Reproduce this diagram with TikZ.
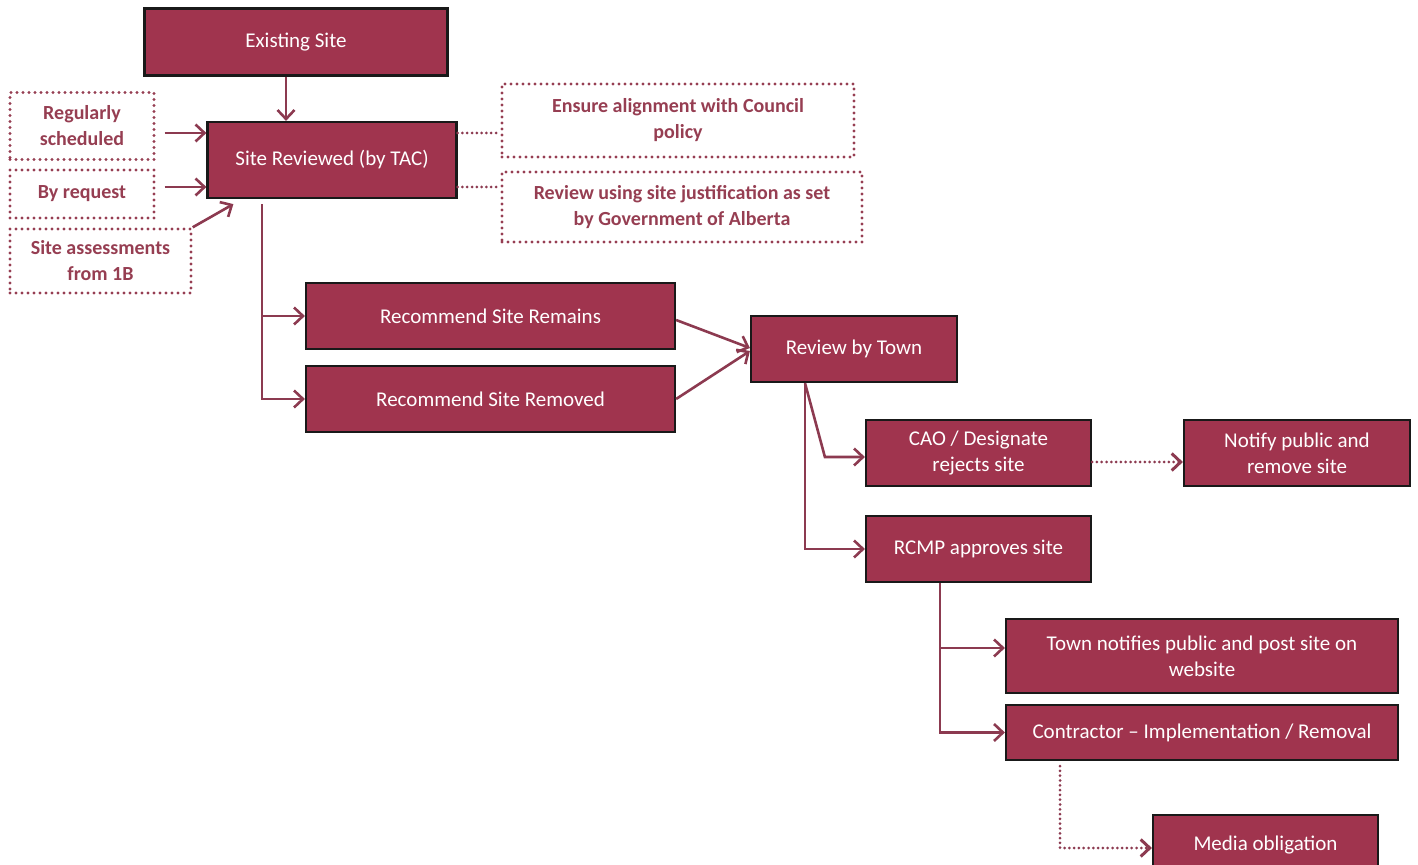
\documentclass[tikz,border=0pt]{standalone}
\usepackage{fontspec}
\setmainfont{Carlito}
\usetikzlibrary{arrows.meta, positioning, calc}
\definecolor{sitered}{RGB}{160, 52, 78}
\definecolor{notered}{RGB}{150, 62, 82}
\definecolor{linkred}{RGB}{140, 58, 80}

\begin{document}
\begin{tikzpicture}[x=0.5pt, y=-0.5pt,
  box/.style={draw=black!90, line width=1.1pt, fill=sitered, text=white, align=center, inner sep=2pt, font=\fontsize{10.5}{13}\selectfont},
  note/.style={draw=notered, line width=1.7pt, dash pattern=on 0pt off 3pt, line cap=round, text=notered, align=center, inner sep=2pt, font=\bfseries\fontsize{10}{13}\selectfont},
  arr/.style={draw=linkred, line width=1.3pt, -{Straight Barb[length=4.5pt,width=8.5pt]}},
  dotline/.style={draw=linkred, line width=1.5pt, dash pattern=on 0pt off 2.4pt, line cap=round},
  dotarr/.style={dotline, -{Straight Barb[length=4.5pt,width=8.5pt]}}]
  \useasboundingbox (0,0) rectangle (1418,865);

  % main flow
  \node[box, minimum width=151.5pt, minimum height=33.5pt] (exist) at (296,42) {Existing Site};
  \node[box, minimum width=124.5pt, minimum height=38pt] (tac) at (332,160) {Site Reviewed (by TAC)};
  \node[box, minimum width=184.5pt, minimum height=33pt] (remains) at (490.5,316) {Recommend Site Remains};
  \node[box, minimum width=184.5pt, minimum height=33pt] (removed) at (490.5,399) {Recommend Site Removed};
  \node[box, minimum width=103pt, minimum height=33pt] (town) at (854,349) {Review by Town};
  \node[box, minimum width=112.5pt, minimum height=33pt] (reject) at (978.5,453) {CAO / Designate\\rejects site};
  \node[box, minimum width=113pt, minimum height=33pt] (notify) at (1297,453) {Notify public and\\remove site};
  \node[box, minimum width=112.5pt, minimum height=33pt] (rcmp) at (978.5,549) {RCMP approves site};
  \node[box, minimum width=196pt, minimum height=37pt] (post) at (1202,656) {Town notifies public and post site on\\website};
  \node[box, minimum width=196pt, minimum height=27.5pt] (contract) at (1202,732.5) {Contractor -- Implementation / Removal};
  \node[box, minimum width=112.5pt, minimum height=30pt] (media) at (1265.5,845) {Media obligation};

  % dotted notes
  \node[note, minimum width=72pt, minimum height=33.5pt] (regular) at (82,126) {Regularly\\scheduled};
  \node[note, minimum width=72pt, minimum height=24pt] (request) at (82,194) {By request};
  \node[note, minimum width=90.5pt, minimum height=32pt] (assess) at (100.5,261) {Site assessments\\from 1B};
  \node[note, minimum width=176pt, minimum height=36.5pt] (council) at (678,120.5) {Ensure alignment with Council\\policy};
  \node[note, minimum width=180pt, minimum height=35pt] (alberta) at (682,207) {Review using site justification as set\\by Government of Alberta};

  % connectors
  \coordinate (esdrop) at ([xshift=-5pt]exist.south);
  \draw[arr] (esdrop) -- (esdrop |- tac.north);
  \draw[arr] ([xshift=4.5pt,yshift=-3.5pt]regular.east) -- ([yshift=13.5pt]tac.west);
  \draw[arr] ([xshift=4.5pt,yshift=3.5pt]request.east) -- ([yshift=-13.5pt]tac.west);
  \draw[arr] (assess.north east) -- ([xshift=13.5pt,yshift=-2.5pt]tac.south west);
  \draw[dotline] ([yshift=13.5pt]tac.east) -- ([yshift=13.5pt]tac.east -| council.west);
  \draw[dotline] ([yshift=-13.5pt]tac.east) -- ([yshift=-13.5pt]tac.east -| alberta.west);

  \draw[arr] ([xshift=-35pt,yshift=-2.5pt]tac.south) |- (remains.west);
  \draw[arr] ([xshift=-35pt,yshift=-2.5pt]tac.south) |- (removed.west);
  \draw[arr] ([yshift=-2pt]remains.east) -- ([yshift=0.5pt]town.west);
  \draw[arr] (removed.east) -- ([yshift=-1pt]town.west);

  \draw[arr] ([xshift=-24.5pt]town.south) -- ([xshift=-20pt,yshift=-2pt]reject.west) -- ([yshift=-2pt]reject.west);
  \draw[arr] ([xshift=-24.5pt]town.south) |- (rcmp.west);
  \draw[dotarr] ([yshift=-4.5pt]reject.east) -- ([yshift=-4.5pt]reject.east -| notify.west);

  \draw[arr] ([xshift=-19.25pt]rcmp.south) |- ([yshift=4pt]post.west);
  \draw[arr] ([xshift=-19.25pt]rcmp.south) |- (contract.west);
  \draw[dotarr] ([xshift=-71pt,yshift=-2.5pt]contract.south) |- ([yshift=-1.5pt]media.west);
\end{tikzpicture}
\end{document}
